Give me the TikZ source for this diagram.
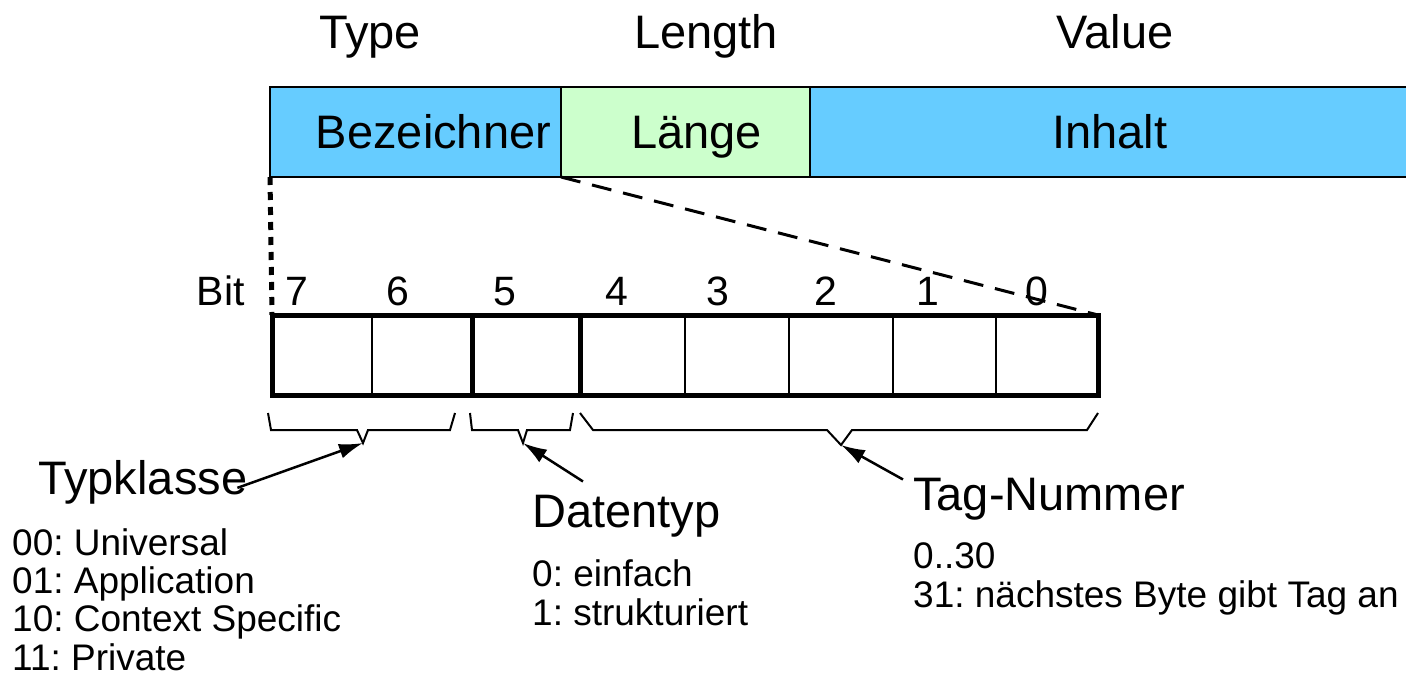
\documentclass[tikz,border=0pt]{standalone}
\usepackage{fontspec}
\setmainfont{Liberation Sans}
\usetikzlibrary{positioning,arrows.meta}
\definecolor{tlvblue}{HTML}{66CCFF}
\definecolor{tlvgreen}{HTML}{CCFFCC}
\frenchspacing

\begin{document}
\begin{tikzpicture}[x=1pt, y=-1pt,
    big/.style = {font=\fontsize{47}{50}\selectfont, inner sep=0pt},
    bitno/.style = {font=\fontsize{41}{44}\selectfont, inner sep=0pt},
    small/.style = {font=\fontsize{37}{38.3}\selectfont, inner sep=0pt, align=left},
    field/.style = {draw, line width=2pt, minimum height=90pt, inner sep=0pt, outer sep=0pt, text height=33pt, text depth=0pt, font=\fontsize{47}{50}\selectfont},
    cell/.style = {draw, line width=2pt, minimum height=80pt, inner sep=0pt, outer sep=0pt},
    brc/.style = {line width=2pt},
    arr/.style = {-{Latex[length=24pt,width=15pt]}, line width=2.5pt}]
    \useasboundingbox (0,0) rectangle (1406,675);

    % TLV header
    \node[big, anchor=base] (ty) at (370,48) {Type};
    \node[big, anchor=base] (le) at (706,48) {Length};
    \node[big, anchor=base] (va) at (1115,48) {Value};

    \node[field, fill=tlvblue, minimum width=291pt] (bez) at (415.5,132) {\hspace*{36pt}Bezeichner};
    \node[field, fill=tlvgreen, minimum width=249pt, right=0pt of bez] (len) {\hspace*{22pt}Länge};
    \node[field, fill=tlvblue, minimum width=600pt, right=0pt of len] (inh) {Inhalt};

    % the identifier byte
    \node[bitno, anchor=base east] (bit) at (245,305) {Bit};
    \foreach \b/\c/\w/\x in {7/322/100/297, 6/422/100/398, 5/526/108/505, 4/632.5/105/617,
                            3/737/104/718, 2/841/104/826, 1/944.5/103/928, 0/1047/102/1037} {
        \node[cell, minimum width=\w pt] (c\b) at (\c,355) {};
        \node[bitno, anchor=base] (n\b) at (\x,305) {\b};
    }
    \draw[line width=5pt] (c7.north west) rectangle (c0.south east);
    \draw[line width=5pt] (c6.north east) -- (c6.south east) (c5.north east) -- (c5.south east);

    \draw[line width=5pt, dash pattern=on 8pt off 7pt] (bez.south west) -- (c7.north west);
    \draw[line width=3pt, dash pattern=on 20pt off 12pt] (bez.south east) -- (c0.north east);

    % braces
    \draw[brc] (268,413) -- (271,430) -- (357,430) -- (363,443) coordinate (tkTip) -- (368,430) -- (450,430) -- (455,413);
    \draw[brc] (470,413) -- (472,430) -- (518,430) -- (523,443) coordinate (dtTip) -- (527,430) -- (570,430) -- (573,413);
    \draw[brc] (580,413) -- (593,430) -- (827,430) -- (841,445) coordinate (tnTip) -- (852,430) -- (1087,430) -- (1098,413);

    % field descriptions
    \node[big, anchor=base west] (tk) at (38,494) {Typklasse};
    \node[small, anchor=base west] (tkl) at (12,670) {00: Universal\\01: Application\\10: Context Specific\\11: Private};
    \draw[arr] ([xshift=-10pt,yshift=-6pt]tk.east) -- (tkTip);

    \node[big, anchor=base west] (dt) at (532,527) {Datentyp};
    \node[small, anchor=base west] (dtl) at (532,625) {0: einfach\\1: strukturiert};
    \draw[arr] ([xshift=51pt,yshift=13pt]dt.north west) -- (dtTip);

    \node[big, anchor=base west] (tn) at (913,510) {Tag-Nummer};
    \node[small, anchor=base west] (tnl) at (913,607) {0..30\\31: nächstes Byte gibt Tag an};
    \draw[arr] ([xshift=-10pt,yshift=-2pt]tn.north west) -- (tnTip);
\end{tikzpicture}
\end{document}
